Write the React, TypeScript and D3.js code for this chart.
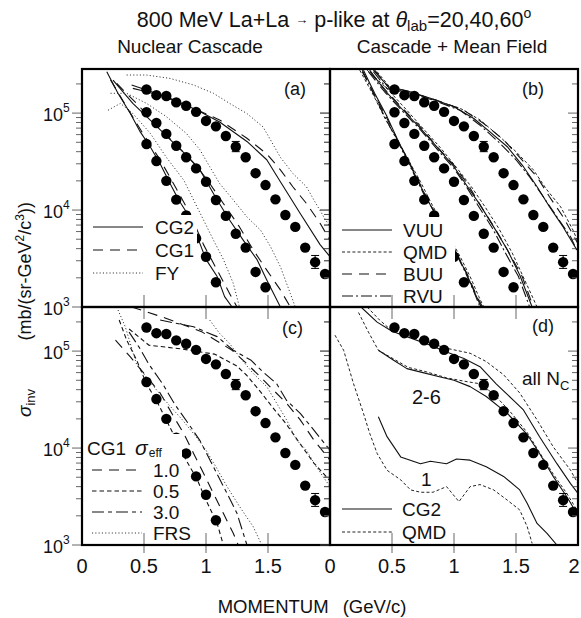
import React from "react";
import * as d3 from "d3";

type Pt = [number, number];

// ---------- experimental data (same in every panel) ----------
const mom20 = [0.52, 0.60, 0.68, 0.76, 0.84, 0.92, 1.0, 1.08, 1.16, 1.24, 1.32, 1.40, 1.48, 1.56, 1.64, 1.72, 1.80, 1.88, 1.96];
const sig20 = [1.75e5, 1.53e5, 1.5e5, 1.29e5, 1.19e5, 1.03e5, 8.3e4, 7.3e4, 5.8e4, 4.5e4, 3.5e4, 2.4e4, 1.81e4, 1.29e4, 8.9e3, 6.7e3, 4.1e3, 2.9e3, 2.19e3];
const mom40 = [0.52, 0.60, 0.68, 0.76, 0.84, 0.92, 1.0, 1.08, 1.16, 1.24, 1.32, 1.40, 1.48];
const sig40 = [1.02e5, 7.9e4, 6.1e4, 4.6e4, 3.5e4, 2.69e4, 1.96e4, 1.27e4, 8.7e3, 5.7e3, 4.1e3, 2.3e3, 1.6e3];
const mom60 = [0.52, 0.60, 0.68, 0.76, 0.84, 0.92, 1.0, 1.08];
const sig60 = [4.8e4, 3.2e4, 2.0e4, 1.28e4, 8.8e3, 5.1e3, 3.3e3, 1.8e3];
const err20: [number, number, number][] = [[1.24, 4.0e4, 5.1e4], [1.88, 2.5e3, 3.4e3]];

// ---------- (a) nuclear cascade ----------
const a20CG2: Pt[] = [[0.40, 1.95e5], [0.52, 1.73e5], [0.71, 1.42e5], [0.93, 1.07e5], [1.11, 8.1e4], [1.33, 5.1e4], [1.49, 3.3e4], [1.60, 1.96e4], [1.76, 9.2e3], [1.92, 4.4e3], [2.0, 3.3e3]];
const a20CG1: Pt[] = [[0.41, 1.8e5], [0.63, 1.53e5], [0.90, 1.12e5], [1.11, 8.5e4], [1.33, 5.5e4], [1.49, 3.8e4], [1.60, 2.6e4], [1.70, 1.74e4], [1.81, 1.17e4], [1.92, 7.3e3], [2.0, 4.9e3]];
const a20FY: Pt[] = [[0.36, 2.47e5], [0.52, 2.47e5], [0.71, 2.28e5], [0.90, 1.95e5], [1.06, 1.6e5], [1.19, 1.26e5], [1.33, 9.9e4], [1.46, 7.2e4], [1.52, 5.3e4], [1.60, 3.5e4], [1.70, 2.39e4], [1.81, 1.74e4], [1.87, 1.27e4], [1.95, 8.5e3], [2.0, 6.7e3]];
const a40CG2: Pt[] = [[0.25, 2.19e5], [0.41, 1.26e5], [0.58, 7.8e4], [0.74, 4.9e4], [0.84, 3.7e4], [0.95, 2.6e4], [1.09, 1.27e4], [1.19, 7.9e3], [1.30, 4.9e3], [1.41, 3.1e3], [1.49, 1.9e3], [1.60, 1.0e3]];
const a40CG1: Pt[] = [[0.28, 2.02e5], [0.44, 1.26e5], [0.60, 7.5e4], [0.76, 4.7e4], [0.93, 2.8e4], [1.03, 1.88e4], [1.14, 1.17e4], [1.27, 6.7e3], [1.38, 3.9e3], [1.49, 2.4e3], [1.60, 1.5e3], [1.68, 1.0e3]];
const a40FY: Pt[] = [[0.23, 1.6e5], [0.36, 1.6e5], [0.52, 1.26e5], [0.68, 9.2e4], [0.84, 6.2e4], [0.95, 4.2e4], [1.03, 2.8e4], [1.11, 1.88e4], [1.22, 1.27e4], [1.33, 8.5e3], [1.44, 6.2e3], [1.52, 4.2e3], [1.60, 2.6e3], [1.68, 1.38e3], [1.72, 1.0e3]];
const a60CG2: Pt[] = [[0.20, 2.67e5], [0.29, 1.6e5], [0.39, 9.9e4], [0.47, 6.4e4], [0.55, 4.5e4], [0.63, 3.0e4], [0.71, 1.88e4], [0.78, 1.27e4], [0.84, 9.6e3], [0.94, 4.9e3], [1.0, 3.1e3], [1.09, 2.06e3], [1.15, 1.28e3], [1.21, 1.0e3]];
const a60CG1: Pt[] = [[0.23, 2.19e5], [0.36, 1.16e5], [0.50, 5.9e4], [0.63, 3.3e4], [0.76, 1.67e4], [0.87, 9.2e3], [0.98, 4.4e3], [1.09, 2.4e3], [1.19, 1.38e3], [1.25, 1.0e3]];
const a60FY: Pt[] = [[0.21, 1.07e5], [0.31, 1.26e5], [0.41, 9.9e4], [0.55, 6.2e4], [0.68, 3.5e4], [0.82, 2.04e4], [0.90, 1.27e4], [0.98, 7.9e3], [1.06, 4.9e3], [1.14, 3.1e3], [1.22, 1.75e3], [1.27, 1.0e3]];

// ---------- (b) cascade + mean field ----------
const b20VUU: Pt[] = [[0.35, 2.77e5], [0.47, 1.87e5], [0.62, 1.7e5], [0.81, 1.42e5], [1.0, 1.16e5], [1.16, 8.8e4], [1.29, 6.4e4], [1.43, 4.5e4], [1.56, 2.8e4], [1.67, 1.74e4], [1.77, 1.08e4], [1.88, 6.7e3], [1.99, 3.9e3]];
const b20QMD: Pt[] = [[0.38, 2.67e5], [0.48, 1.87e5], [0.65, 1.66e5], [0.83, 1.38e5], [1.05, 1.12e5], [1.21, 8.5e4], [1.37, 5.7e4], [1.50, 4.0e4], [1.64, 2.6e4], [1.75, 1.61e4], [1.86, 1.08e4], [1.96, 6.2e3], [2.0, 4.7e3]];
const b20BUU: Pt[] = [[0.36, 2.77e5], [0.48, 1.79e5], [0.67, 1.6e5], [0.86, 1.36e5], [1.08, 1.07e5], [1.24, 7.8e4], [1.40, 5.3e4], [1.53, 3.5e4], [1.67, 2.2e4], [1.77, 1.37e4], [1.88, 8.5e3], [2.0, 4.5e3]];
const b20RVU: Pt[] = [[0.35, 2.67e5], [0.46, 1.79e5], [0.65, 1.6e5], [0.83, 1.36e5], [1.05, 1.07e5], [1.21, 7.5e4], [1.37, 4.9e4], [1.50, 3.3e4], [1.61, 2.2e4], [1.72, 1.37e4], [1.83, 8.5e3], [1.94, 5.3e3], [2.0, 3.6e3]];
const b40VUU: Pt[] = [[0.32, 2.77e5], [0.44, 1.73e5], [0.59, 1.07e5], [0.73, 6.95e4], [0.86, 4.5e4], [1.0, 2.8e4], [1.10, 1.81e4], [1.21, 1.13e4], [1.32, 6.7e3], [1.43, 3.9e3], [1.53, 2.14e3], [1.63, 1.0e3]];
const b40QMD: Pt[] = [[0.30, 2.77e5], [0.46, 1.79e5], [0.62, 1.07e5], [0.75, 6.95e4], [0.89, 4.4e4], [1.02, 2.75e4], [1.14, 1.74e4], [1.25, 1.08e4], [1.36, 6.5e3], [1.47, 3.6e3], [1.57, 1.9e3], [1.67, 1.0e3]];
const b40BUU: Pt[] = [[0.32, 2.67e5], [0.46, 1.66e5], [0.60, 1.07e5], [0.74, 6.95e4], [0.87, 4.4e4], [1.01, 2.8e4], [1.12, 1.77e4], [1.22, 1.08e4], [1.33, 6.5e3], [1.44, 3.7e3], [1.55, 2.06e3], [1.64, 1.0e3]];
const b40RVU: Pt[] = [[0.31, 2.67e5], [0.44, 1.66e5], [0.59, 1.03e5], [0.73, 6.7e4], [0.86, 4.3e4], [1.0, 2.69e4], [1.10, 1.74e4], [1.20, 1.08e4], [1.31, 6.5e3], [1.41, 3.7e3], [1.52, 2.06e3], [1.61, 1.0e3]];
const b60VUU: Pt[] = [[0.27, 2.77e5], [0.36, 1.6e5], [0.46, 9.2e4], [0.54, 5.5e4], [0.62, 3.4e4], [0.70, 2.12e4], [0.78, 1.32e4], [0.86, 8.5e3], [0.94, 5.7e3], [1.02, 3.6e3], [1.10, 2.22e3], [1.17, 1.38e3], [1.22, 1.0e3]];
const b60QMD: Pt[] = [[0.24, 2.77e5], [0.35, 1.53e5], [0.45, 8.5e4], [0.55, 5.1e4], [0.64, 3.15e4], [0.73, 1.96e4], [0.81, 1.22e4], [0.89, 7.9e3], [0.97, 5.1e3], [1.05, 3.3e3], [1.13, 2.06e3], [1.20, 1.28e3], [1.24, 1.0e3]];
const b60BUU: Pt[] = [[0.26, 2.67e5], [0.36, 1.53e5], [0.46, 8.8e4], [0.54, 5.4e4], [0.63, 3.3e4], [0.71, 2.04e4], [0.79, 1.27e4], [0.87, 8.2e3], [0.95, 5.4e3], [1.03, 3.4e3], [1.11, 2.14e3], [1.18, 1.33e3], [1.23, 1.0e3]];
const b60RVU: Pt[] = [[0.26, 2.77e5], [0.35, 1.6e5], [0.44, 9.2e4], [0.53, 5.6e4], [0.61, 3.5e4], [0.69, 2.17e4], [0.77, 1.35e4], [0.86, 8.9e3], [0.94, 5.8e3], [1.01, 3.7e3], [1.09, 2.31e3], [1.16, 1.44e3], [1.21, 1.0e3]];

// ---------- (c) CG1 with sigma_eff ----------
const c20s10: Pt[] = [[0.40, 2.85e5], [0.67, 2.2e5], [0.97, 1.57e5], [1.21, 1.02e5], [1.32, 7.6e4], [1.44, 5.4e4], [1.54, 4.0e4], [1.65, 2.9e4], [1.76, 1.95e4], [1.87, 1.21e4], [2.0, 7.5e3]];
const c20s05: Pt[] = [[0.38, 1.69e5], [0.54, 1.15e5], [0.81, 1.05e5], [1.07, 9.3e4], [1.25, 7.0e4], [1.33, 5.6e4], [1.44, 3.8e4], [1.54, 2.6e4], [1.65, 1.75e4], [1.76, 1.1e4], [1.87, 7.0e3], [2.0, 4.6e3]];
const c20s30: Pt[] = [[0.63, 2.09e5], [0.90, 1.78e5], [1.09, 1.41e5], [1.22, 1.02e5], [1.36, 8.1e4], [1.46, 6.1e4], [1.57, 4.6e4], [1.65, 3.1e4], [1.76, 2.28e4], [1.87, 1.53e4], [2.0, 9.5e3]];
const c20FRS: Pt[] = [[1.03, 2.09e5], [1.11, 1.52e5], [1.19, 1.2e5], [1.27, 8.7e4], [1.38, 5.9e4], [1.49, 4.3e4], [1.57, 2.9e4], [1.65, 1.95e4], [1.73, 1.21e4], [1.81, 9.5e3], [1.89, 6.4e3], [2.0, 4.0e3]];
const c60s05: Pt[] = [[0.30, 2.09e5], [0.36, 1.3e5], [0.44, 8.1e4], [0.52, 4.6e4], [0.60, 3.1e4], [0.68, 1.95e4], [0.76, 1.21e4], [0.84, 7.5e3], [0.93, 4.7e3], [1.0, 2.9e3], [1.09, 1.67e3], [1.14, 1.0e3]];
const c60s10: Pt[] = [[0.27, 1.3e5], [0.39, 8.7e4], [0.50, 5.9e4], [0.63, 3.7e4], [0.74, 2.1e4], [0.82, 1.42e4], [0.90, 8.8e3], [0.98, 5.5e3], [1.06, 3.4e3], [1.14, 2.12e3], [1.22, 1.32e3], [1.26, 1.0e3]];
const c60s30: Pt[] = [[0.38, 1.57e5], [0.46, 1.1e5], [0.54, 7.3e4], [0.65, 4.6e4], [0.75, 2.8e4], [0.86, 1.77e4], [0.95, 1.2e4], [1.06, 6.4e3], [1.17, 3.4e3], [1.25, 2.12e3], [1.33, 1.0e3]];
const c60FRS: Pt[] = [[0.28, 2.85e5], [0.35, 1.77e5], [0.44, 7.3e4], [0.56, 4.6e4], [0.70, 2.8e4], [0.81, 1.95e4], [0.91, 1.36e4], [1.0, 9.5e3], [1.08, 6.4e3], [1.17, 4.0e3], [1.27, 2.5e3], [1.38, 1.55e3], [1.45, 1.0e3]];

// ---------- (d) N_C selection ----------
const dAllCG2: Pt[] = [[0.25, 2.85e5], [0.38, 1.99e5], [0.50, 1.6e5], [0.62, 1.41e5], [0.81, 1.15e5], [0.94, 9.8e4], [1.08, 8.4e4], [1.21, 6.9e4], [1.34, 4.6e4], [1.48, 3.1e4], [1.56, 2.47e4], [1.69, 1.31e4], [1.83, 6.9e3], [1.94, 4.3e3], [2.0, 3.4e3]];
const dAllQMD: Pt[] = [[0.30, 2.85e5], [0.40, 2.09e5], [0.48, 1.7e5], [0.73, 1.3e5], [0.94, 1.07e5], [1.13, 9.5e4], [1.26, 7.8e4], [1.40, 5.7e4], [1.53, 3.7e4], [1.67, 1.95e4], [1.80, 1.03e4], [1.94, 5.9e3], [2.0, 4.3e3]];
const d26CG2: Pt[] = [[0.39, 1.02e5], [0.51, 8.1e4], [0.62, 6.6e4], [0.75, 6.0e4], [0.89, 5.4e4], [1.0, 5.0e4], [1.13, 4.3e4], [1.26, 3.4e4], [1.43, 2.28e4], [1.59, 1.38e4], [1.69, 8.8e3], [1.80, 5.1e3], [1.91, 3.15e3], [1.99, 2.12e3]];
const d26QMD: Pt[] = [[0.23, 2.5e5], [0.31, 1.57e5], [0.39, 1.02e5], [0.52, 8.2e4], [0.63, 6.8e4], [0.78, 6.1e4], [0.94, 5.3e4], [1.08, 4.9e4], [1.21, 4.6e4], [1.32, 3.6e4], [1.45, 2.4e4], [1.59, 1.45e4], [1.69, 9.0e3], [1.80, 5.4e3], [1.91, 3.4e3], [2.0, 2.2e3]];
const d1CG2: Pt[] = [[0.39, 2.1e4], [0.46, 1.31e4], [0.57, 8.1e3], [0.73, 6.9e3], [0.81, 7.3e3], [0.94, 6.9e3], [1.02, 7.7e3], [1.13, 7.5e3], [1.26, 6.4e3], [1.40, 5.1e3], [1.53, 3.7e3], [1.59, 2.69e3], [1.67, 1.67e3], [1.75, 1.32e3], [1.83, 1.0e3]];
const d1QMD: Pt[] = [[0.04, 1.46e5], [0.11, 1.02e5], [0.19, 4.6e4], [0.27, 2.28e4], [0.32, 1.42e4], [0.38, 8.8e3], [0.46, 5.9e3], [0.57, 4.7e3], [0.65, 3.7e3], [0.73, 3.5e3], [0.83, 3.5e3], [0.94, 4.0e3], [1.04, 2.8e3], [1.13, 4.0e3], [1.21, 4.2e3], [1.32, 3.7e3], [1.43, 2.9e3], [1.53, 2.3e3], [1.59, 1.55e3], [1.63, 1.04e3]];

// ---------- axes ----------
const xTicks = [0, 0.5, 1, 1.5, 2];
const xTickLabelsLeft = ["0", "0.5", "1", "1.5", "0"];
const xTickLabelsRight = ["", "0.5", "1", "1.5", "2"];
const yDecades = [3, 4, 5];
const Y_MIN = 1e3;
const Y_MAX = 2.85e5;

// ---------- styles ----------
const FONT = "'Liberation Sans', Arial, Helvetica, sans-serif";
type StyleKey = "solid" | "long" | "dot" | "qmd" | "short" | "dashdot" | "rvu";
const STYLES: Record<StyleKey, { dash?: string; w: number; c: string }> = {
  solid: { w: 1.1, c: "#111" },
  long: { dash: "10 7", w: 1.1, c: "#111" },
  dot: { dash: "1.1 2.2", w: 1, c: "#333" },
  qmd: { dash: "3 2.2", w: 1, c: "#222" },
  short: { dash: "4.5 3", w: 1.1, c: "#111" },
  dashdot: { dash: "12 4 4 4", w: 1.1, c: "#111" },
  rvu: { dash: "11 3 2 3", w: 1.1, c: "#111" },
};

const PW = 248;
const PH = 238;

type Curve = { pts: Pt[]; s: StyleKey };
type Legend = { box: [number, number, number, number]; lx: number; tx: number; rows: { label: string; s: StyleKey; y: number }[] };
type PanelDef = {
  id: string;
  x0: number;
  y0: number;
  curves: Curve[];
  series: { m: number[]; v: number[] }[];
  label: { text: string; x: number; y: number };
  legend: Legend;
  left: boolean;
  bottom: boolean;
};

const panels: PanelDef[] = [
  {
    id: "a", x0: 82, y0: 69, left: true, bottom: false,
    curves: [
      { pts: a20CG2, s: "solid" }, { pts: a20CG1, s: "long" }, { pts: a20FY, s: "dot" },
      { pts: a40CG2, s: "solid" }, { pts: a40CG1, s: "long" }, { pts: a40FY, s: "dot" },
      { pts: a60CG2, s: "solid" }, { pts: a60CG1, s: "long" }, { pts: a60FY, s: "dot" },
    ],
    series: [{ m: mom20, v: sig20 }, { m: mom40, v: sig40 }, { m: mom60, v: sig60 }],
    label: { text: "(a)", x: 284, y: 95 },
    legend: { box: [86, 215, 111, 91], lx: 93, tx: 155, rows: [
      { label: "CG2", s: "solid", y: 227 }, { label: "CG1", s: "long", y: 250 }, { label: "FY", s: "dot", y: 273 }] },
  },
  {
    id: "b", x0: 330, y0: 69, left: false, bottom: false,
    curves: [
      { pts: b20VUU, s: "solid" }, { pts: b20QMD, s: "qmd" }, { pts: b20BUU, s: "long" }, { pts: b20RVU, s: "rvu" },
      { pts: b40VUU, s: "solid" }, { pts: b40QMD, s: "qmd" }, { pts: b40BUU, s: "long" }, { pts: b40RVU, s: "rvu" },
      { pts: b60VUU, s: "solid" }, { pts: b60QMD, s: "qmd" }, { pts: b60BUU, s: "long" }, { pts: b60RVU, s: "rvu" },
    ],
    series: [{ m: mom20, v: sig20 }, { m: mom40, v: sig40 }, { m: mom60, v: sig60 }],
    label: { text: "(b)", x: 522, y: 95 },
    legend: { box: [336, 217, 119, 89], lx: 342, tx: 403, rows: [
      { label: "VUU", s: "solid", y: 230 }, { label: "QMD", s: "qmd", y: 252 },
      { label: "BUU", s: "long", y: 274 }, { label: "RVU", s: "rvu", y: 296 }] },
  },
  {
    id: "c", x0: 82, y0: 307, left: true, bottom: true,
    curves: [
      { pts: c20s10, s: "long" }, { pts: c20s05, s: "short" }, { pts: c20s30, s: "dashdot" }, { pts: c20FRS, s: "dot" },
      { pts: c60s10, s: "long" }, { pts: c60s05, s: "short" }, { pts: c60s30, s: "dashdot" }, { pts: c60FRS, s: "dot" },
    ],
    series: [{ m: mom20, v: sig20 }, { m: mom60, v: sig60 }],
    label: { text: "(c)", x: 282, y: 334 },
    legend: { box: [84, 434, 98, 110], lx: 92, tx: 153, rows: [
      { label: "1.0", s: "long", y: 470 }, { label: "0.5", s: "short", y: 491 },
      { label: "3.0", s: "dashdot", y: 512 }, { label: "FRS", s: "dot", y: 533 }] },
  },
  {
    id: "d", x0: 330, y0: 307, left: false, bottom: true,
    curves: [
      { pts: dAllCG2, s: "solid" }, { pts: dAllQMD, s: "qmd" },
      { pts: d26CG2, s: "solid" }, { pts: d26QMD, s: "qmd" },
      { pts: d1CG2, s: "solid" }, { pts: d1QMD, s: "qmd" },
    ],
    series: [{ m: mom20, v: sig20 }],
    label: { text: "(d)", x: 532, y: 332 },
    legend: { box: [336, 496, 112, 48], lx: 342, tx: 402, rows: [
      { label: "CG2", s: "solid", y: 509 }, { label: "QMD", s: "qmd", y: 532 }] },
  },
];

function Panel({ P }: { P: PanelDef }) {
  const x = d3.scaleLinear().domain([0, 2]).range([P.x0, P.x0 + PW]);
  const y = d3.scaleLog().domain([Y_MIN, Y_MAX]).range([P.y0 + PH, P.y0]);
  const line = d3.line<Pt>().x((d) => x(d[0])).y((d) => y(d[1]));
  const clipId = `clip-${P.id}`;
  const minors: number[] = [];
  yDecades.forEach((dec) => {
    for (let m = 2; m <= 9; m++) {
      const v = m * Math.pow(10, dec);
      if (v < Y_MAX) minors.push(v);
    }
  });
  const majors = yDecades.map((d) => Math.pow(10, d));
  const x1 = P.x0 + PW;
  const yb = P.y0 + PH;
  const lg = P.legend;
  return (
    <g>
      <defs>
        <clipPath id={clipId}>
          <rect x={P.x0} y={P.y0} width={PW} height={PH} />
        </clipPath>
      </defs>
      <g clipPath={`url(#${clipId})`}>
        {P.curves.map((c, i) => {
          const st = STYLES[c.s];
          return (
            <path key={i} d={line(c.pts) || ""} fill="none" stroke={st.c} strokeWidth={st.w}
              strokeDasharray={st.dash} strokeLinejoin="round" />
          );
        })}
        {P.series.map((s, si) =>
          s.m.map((m, i) => <circle key={`${si}-${i}`} cx={x(m)} cy={y(s.v[i])} r={5.2} fill="#000" />)
        )}
        {err20.map((e, i) => (
          <g key={i} stroke="#000" strokeWidth={1}>
            <line x1={x(e[0])} x2={x(e[0])} y1={y(e[1])} y2={y(e[2])} />
            <line x1={x(e[0]) - 4} x2={x(e[0]) + 4} y1={y(e[1])} y2={y(e[1])} />
            <line x1={x(e[0]) - 4} x2={x(e[0]) + 4} y1={y(e[2])} y2={y(e[2])} />
          </g>
        ))}
        <rect x={lg.box[0]} y={lg.box[1]} width={lg.box[2]} height={lg.box[3]} fill="#fff" />
      </g>
      {lg.rows.map((r, i) => {
        const st = STYLES[r.s];
        return (
          <g key={i}>
            <line x1={lg.lx} x2={lg.lx + 50} y1={r.y} y2={r.y} stroke={st.c} strokeWidth={st.w} strokeDasharray={st.dash} />
            <text x={lg.tx} y={r.y + 7} fontSize={19} fontFamily={FONT} fill="#111">{r.label}</text>
          </g>
        );
      })}
      <text x={P.label.x} y={P.label.y} fontSize={18} fontFamily={FONT} fill="#111">{P.label.text}</text>
      {[P.x0, x1].map((ex, k) => (
        <g key={k} stroke="#555" strokeWidth={0.9}>
          {majors.map((v, i) => <line key={`M${i}`} x1={ex - 10} x2={ex} y1={y(v)} y2={y(v)} />)}
          {minors.map((v, i) => <line key={`m${i}`} x1={ex - 6} x2={ex} y1={y(v)} y2={y(v)} />)}
        </g>
      ))}
      <g stroke="#555" strokeWidth={0.9}>
        {xTicks.slice(1, 4).map((t, i) => (
          <g key={i}>
            <line x1={x(t)} x2={x(t)} y1={yb} y2={yb - 12} />
            {P.bottom && <line x1={x(t)} x2={x(t)} y1={yb} y2={yb + 8} />}
            {P.bottom && <line x1={x(t)} x2={x(t)} y1={P.y0} y2={P.y0 + 12} />}
          </g>
        ))}
      </g>
      <rect x={P.x0} y={P.y0} width={PW} height={PH} fill="none" stroke="#000" strokeWidth={2.2} />
      {P.left &&
        yDecades.map((d) => (
          <text key={d} x={43} y={y(Math.pow(10, d)) + 8} fontSize={18} fontFamily={FONT} fill="#111">
            10<tspan fontSize={12} dy={-9}>{d}</tspan>
          </text>
        ))}
      {P.bottom &&
        xTicks.map((t, i) => {
          const lab = P.left ? xTickLabelsLeft[i] : xTickLabelsRight[i];
          if (!lab) return null;
          return (
            <text key={i} x={i === 4 && !P.left ? 574 : x(t)} y={573} fontSize={20} fontFamily={FONT} textAnchor="middle" fill="#111">{lab}</text>
          );
        })}
    </g>
  );
}

export default function App() {
  return (
    <svg width={581} height={618} viewBox="0 0 581 618" style={{ position: "absolute", left: 0, top: 0, background: "#fff" }}>
      <rect x={0} y={0} width={581} height={618} fill="#fff" />
      <text x={334} y={27} textAnchor="middle" fontSize={21.5} fontFamily={FONT} fill="#111">
        800 MeV La+La <tspan fontSize={13} dy={-3}>→</tspan><tspan dy={3}> p-like at </tspan>
        <tspan fontStyle="italic">θ</tspan><tspan fontSize={15} dy={4}>lab</tspan><tspan dy={-4}>=20,40,60</tspan>
        <tspan fontSize={14} dy={-9}>o</tspan>
      </text>
      <text x={190} y={53} textAnchor="middle" fontSize={19} fontFamily={FONT} fill="#111">Nuclear Cascade</text>
      <text x={452} y={53} textAnchor="middle" fontSize={19} fontFamily={FONT} fill="#111">Cascade + Mean Field</text>
      {panels.map((P) => <Panel key={P.id} P={P} />)}
      <text x={87} y={455} fontSize={19} fontFamily={FONT} fill="#111">
        CG1<tspan dx={9} fontSize={21} fontStyle="italic">σ</tspan><tspan fontSize={12} dx={1} dy={2}>eff</tspan>
      </text>
      <text x={522} y={385} fontSize={19} fontFamily={FONT} fill="#111">all N<tspan fontSize={13} dy={5}>C</tspan></text>
      <text x={412} y={404} fontSize={20} fontFamily={FONT} fill="#111">2-6</text>
      <text x={421} y={486} fontSize={19} fontFamily={FONT} fill="#111">1</text>
      <text transform="translate(31,417) rotate(-90)" fontSize={19} fontFamily={FONT} fill="#111">
        <tspan fontStyle="italic">σ</tspan><tspan fontSize={13} dy={4}>inv</tspan>
      </text>
      <text transform="translate(31,202) rotate(-90)" textAnchor="end" fontSize={18} fontFamily={FONT} fill="#111">
        (mb/(sr-GeV<tspan fontSize={12} dy={-7}>2</tspan><tspan dy={7}>/c</tspan><tspan fontSize={12} dy={-7}>3</tspan><tspan dy={7}>))</tspan>
      </text>
      <text x={312} y={613} textAnchor="middle" fontSize={18.5} fontFamily={FONT} fill="#111">
        MOMENTUM<tspan dx={14}>(GeV/c)</tspan>
      </text>
    </svg>
  );
}
